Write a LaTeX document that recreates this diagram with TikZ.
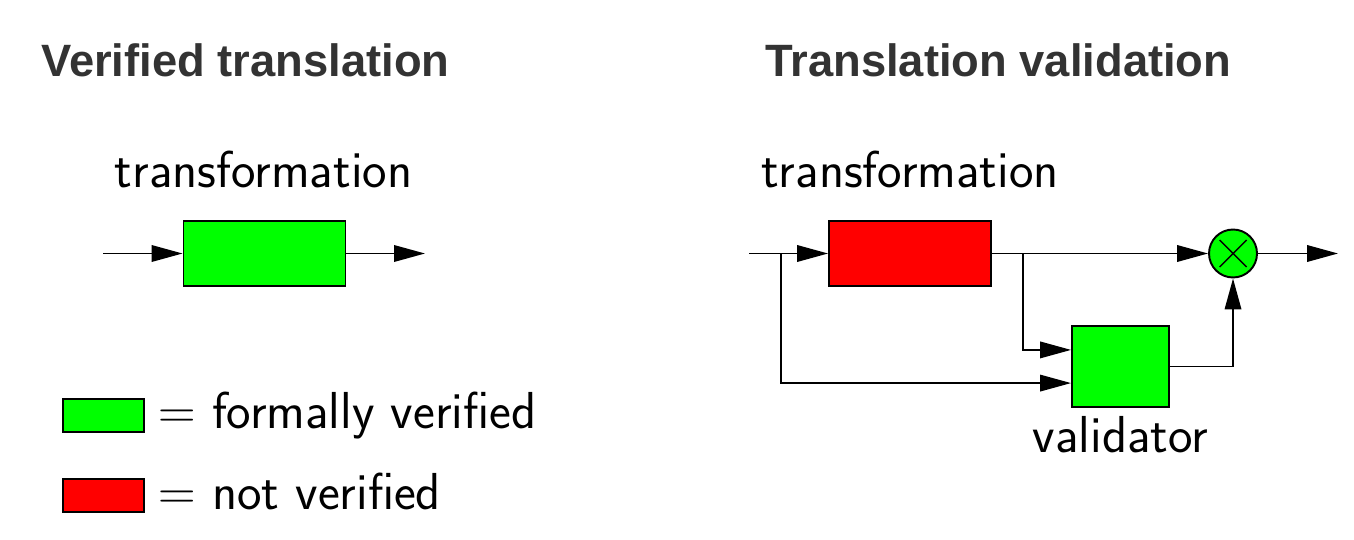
\documentclass[tikz,border=0pt]{standalone}
\usepackage{fix-cm}
\usepackage{fontspec}
\newfontfamily\headfont{Liberation Sans}
\usetikzlibrary{positioning, arrows.meta, calc}
\definecolor{okgreen}{RGB}{0,255,0}
\definecolor{badred}{RGB}{255,0,0}
\definecolor{headgray}{RGB}{51,51,51}
\tikzset{
  wire/.style={line width=1.1pt},
  arr/.style={wire, -{Triangle[length=0.62cm,width=0.33cm]}},
  block/.style={draw, line width=1.1pt, inner sep=0pt},
  longblock/.style={block, minimum width=3.24cm, minimum height=1.3cm},
  keyblock/.style={block, minimum width=1.62cm, minimum height=0.66cm},
  head/.style={inner sep=0pt, anchor=base west, text=headgray, font=\headfont\bfseries\fontsize{25.8}{30}\selectfont},
  lbl/.style={inner sep=0pt, anchor=base, font=\sffamily\fontsize{29.6}{35}\selectfont},
}
\begin{document}
\begin{tikzpicture}[x=0.02cm, y=-0.02cm]
  \useasboundingbox (0,0) rectangle (1354,540);
  % titles
  \node[head] (hleft) at (41,77) {Verified translation};
  \node[head] (hright) at (765,77) {Translation validation};
  % verified translation
  \node[longblock, fill=okgreen] (tl) at (264.5,253.5) {};
  \coordinate (lin) at (103,253.5);
  \coordinate (lout) at (425,253.5);
  \node[lbl] (tllab) at (263.5,188) {transformation};
  \draw[arr] (lin) -- (tl.west);
  \draw[arr] (tl.east) -- (lout);
  % legend
  \node[keyblock, fill=okgreen] (kg) at (103.5,415.5) {};
  \node[keyblock, fill=badred] (kr) at (103.5,495.5) {};
  \node[lbl, anchor=base west] (kgtext) at (158,428) {$=$ formally verified};
  \node[lbl, anchor=base west] (krtext) at (158,509) {$=$ not verified};
  % translation validation
  \node[longblock, fill=badred] (tr) at (910,253.5) {};
  \node[lbl] (trlab) at (910,188) {transformation};
  \node[block, fill=okgreen, minimum width=1.94cm, minimum height=1.62cm] (val) at (1120.5,366.5) {};
  \node[lbl] (vallab) at (1120.5,452) {validator};
  \node[block, circle, fill=okgreen, minimum size=0.96cm,
        path picture={\draw[line width=0.8pt] ($(path picture bounding box.center)+(-0.27cm,-0.27cm)$) -- ($(path picture bounding box.center)+(0.27cm,0.27cm)$)
                      ($(path picture bounding box.center)+(-0.27cm,0.27cm)$) -- ($(path picture bounding box.center)+(0.27cm,-0.27cm)$);}] (mult) at (1233,253.5) {};
  \coordinate (rin) at (749,253.5);
  \coordinate (split) at (781,253.5);
  \coordinate (fork) at (1023,253.5);
  \coordinate (rout) at (1338,253.5);
  \coordinate (upin) at ($(val.north west)!0.3!(val.south west)$);
  \coordinate (lowin) at ($(val.north west)!0.7!(val.south west)$);
  \draw[arr] (rin) -- (tr.west);
  \draw[arr] (tr.east) -- (mult.west);
  \draw[arr] (fork) |- (upin);
  \draw[arr] (split) |- (lowin);
  \draw[arr] (val.east) -| (mult.south);
  \draw[arr] (mult.east) -- (rout);
\end{tikzpicture}
\end{document}
